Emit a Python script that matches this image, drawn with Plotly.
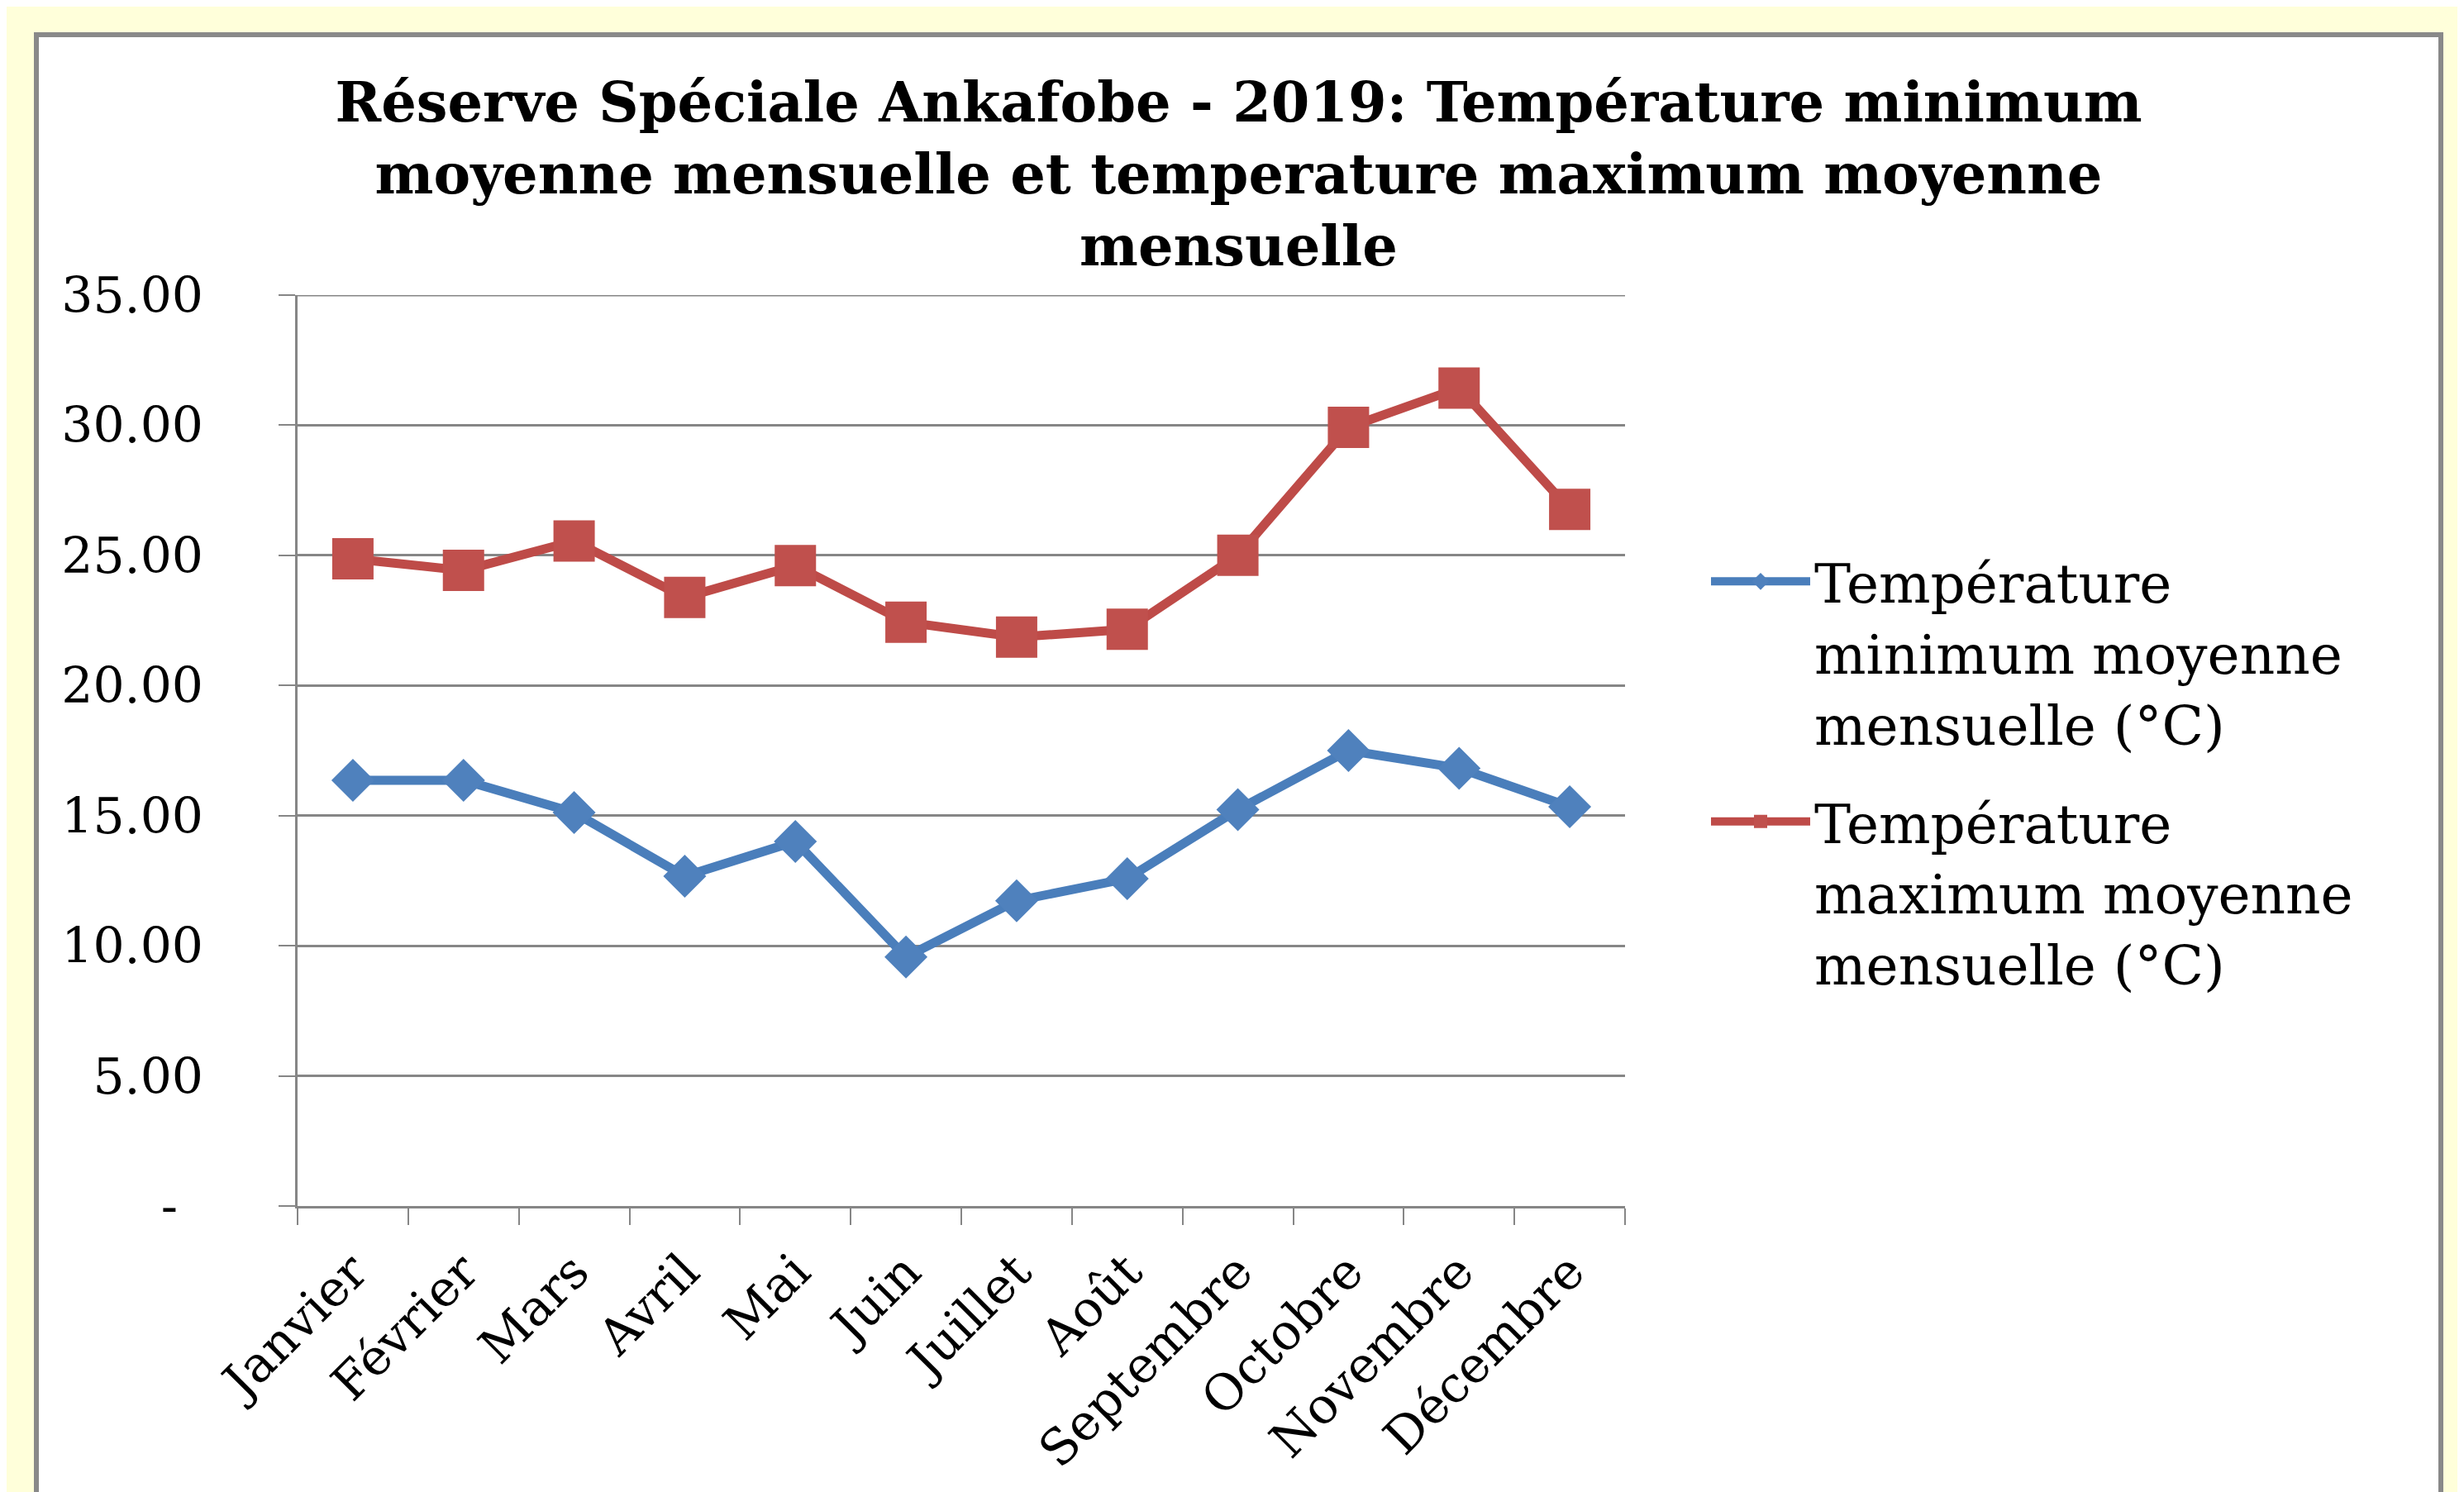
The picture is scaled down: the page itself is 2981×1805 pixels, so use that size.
import plotly.graph_objects as go

months = ["Janvier", "Février", "Mars", "Avril", "Mai", "Juin", "Juillet",
          "Août", "Septembre", "Octobre", "Novembre", "Décembre"]
t_min = [16.36, 16.36, 15.12, 12.67, 14.01, 9.57, 11.73, 12.58, 15.23, 17.50, 16.82, 15.34]
t_max = [24.87, 24.42, 25.55, 23.38, 24.61, 22.43, 21.86, 22.16, 25.00, 29.92, 31.43, 26.77]
y_tick_vals = [0, 5, 10, 15, 20, 25, 30, 35]
y_tick_text = ["-\u00a0\u2009", "5.00", "10.00", "15.00", "20.00", "25.00", "30.00", "35.00"]
name_min = "Température<br>minimum moyenne<br>mensuelle (°C)"
name_max = "Température<br>maximum moyenne<br>mensuelle (°C)"
title_text = ("Réserve Spéciale Ankafobe - 2019: Température minimum<br>"
              "moyenne mensuelle et temperature maximum moyenne<br>mensuelle")
y_max = 35

W, H = 2981, 1805
L, R, T, B = 352, 2981 - 1958, 349, 1805 - 1451

fig = go.Figure()
fig.add_trace(go.Scatter(
    x=months, y=t_min, name=name_min, mode="lines+markers", legendgroup="min",
    line=dict(color="#4A7EBB", width=11),
    marker=dict(symbol="diamond", size=40, color="#4F81BD"),
))
fig.add_trace(go.Scatter(
    x=months, y=t_max, name=name_max, mode="lines+markers", legendgroup="max",
    line=dict(color="#BE4B48", width=11),
    marker=dict(symbol="square", size=50, color="#C0504D"),
))

pw = W - L - R
ph = H - T - B
# frame (white box with grey border)
fig.add_shape(type="rect", xref="paper", yref="paper",
              x0=(36 - L) / pw, x1=(2945 - L) / pw,
              y0=(H - B - 1950) / ph, y1=(H - B - 34) / ph,
              line=dict(color="#898989", width=6), fillcolor="white", layer="below")
# top gridline at the range maximum
fig.add_shape(type="line", xref="paper", yref="y", x0=0, x1=1, y0=y_max, y1=y_max,
              line=dict(color="#868686", width=3), layer="below")

fig.update_layout(
    width=W, height=H,
    margin=dict(l=L, r=R, t=T, b=B),
    paper_bgcolor="#FFFFDA",
    plot_bgcolor="rgba(0,0,0,0)",
    title=dict(text=title_text, x=0.5, xref="container", xanchor="center",
               y=1 - 139 / H, yref="container", yanchor="top",
               font=dict(family="DejaVu Serif", size=67, color="black", weight="bold")),
    showlegend=True,
    legend=dict(x=(2057 - L) / pw, xanchor="left", y=0.476, yanchor="middle",
                font=dict(family="DejaVu Serif", size=66, color="black"),
                bgcolor="rgba(0,0,0,0)", itemwidth=120, tracegroupgap=30,
                valign="top", traceorder="grouped"),
    font=dict(family="DejaVu Serif", color="black"),
)
fig.update_xaxes(
    type="category", range=[-0.5, 11.5], showgrid=False,
    showline=True, linecolor="#868686", linewidth=3,
    ticks="outside", tickson="boundaries", ticklen=20, tickwidth=2, tickcolor="#868686",
    tickangle=-45, ticklabelstandoff=17,
    tickfont=dict(family="DejaVu Serif", size=60, color="black"),
)
fig.update_yaxes(
    range=[0, y_max], tickvals=y_tick_vals, ticktext=y_tick_text,
    showgrid=True, gridcolor="#868686", gridwidth=3, zeroline=False,
    showline=True, linecolor="#868686", linewidth=3,
    ticks="outside", ticklen=20, tickwidth=2, tickcolor="#868686",
    ticklabelstandoff=79,
    tickfont=dict(family="DejaVu Serif", size=60, color="black"),
)
fig.write_html("out.html")
